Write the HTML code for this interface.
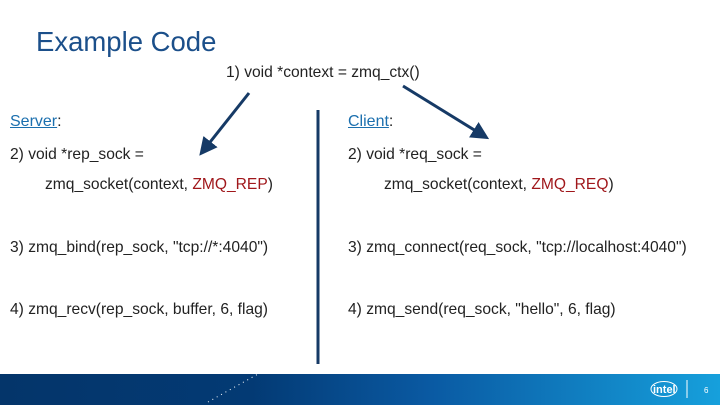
<!DOCTYPE html>
<html><head><style>
body{margin:0;width:720px;height:405px;overflow:hidden;background:#fff;position:relative;font-family:"Liberation Sans",Arial,sans-serif;color:#222}
.t{position:absolute;font-size:15.6px;white-space:nowrap;line-height:1}
.h{color:#1b6fae;text-decoration:underline}
.r{color:#a0171b}
</style></head><body>
<div class="t" style="left:36px;top:28px;font-size:27.5px;color:#1b4f8a">Example Code</div>
<div class="t" style="left:226px;top:65px">1) void *context = zmq_ctx()</div>
<div class="t" style="left:10px;top:114px;font-size:16px"><span class="h">Server</span>:</div>
<div class="t" style="left:348px;top:114px;font-size:16px"><span class="h">Client</span>:</div>
<div class="t" style="left:10px;top:147px">2) void *rep_sock =</div>
<div class="t" style="left:348px;top:147px">2) void *req_sock =</div>
<div class="t" style="left:45px;top:177px">zmq_socket(context, <span class="r">ZMQ_REP</span>)</div>
<div class="t" style="left:384px;top:177px">zmq_socket(context, <span class="r">ZMQ_REQ</span>)</div>
<div class="t" style="left:10px;top:240px">3) zmq_bind(rep_sock, "tcp://*:4040")</div>
<div class="t" style="left:348px;top:240px">3) zmq_connect(req_sock, "tcp://localhost:4040")</div>
<div class="t" style="left:10px;top:302px">4) zmq_recv(rep_sock, buffer, 6, flag)</div>
<div class="t" style="left:348px;top:302px">4) zmq_send(req_sock, "hello", 6, flag)</div>
<svg width="720" height="405" style="position:absolute;left:0;top:0">
<defs><marker id="a" markerWidth="6" markerHeight="6" refX="4" refY="3" orient="auto"><path d="M0,0L6,3L0,6z" fill="#163a66"/></marker></defs>
<line x1="249" y1="93" x2="203" y2="151" stroke="#163a66" stroke-width="3" marker-end="url(#a)"/>
<line x1="403" y1="86" x2="484" y2="136" stroke="#163a66" stroke-width="3" marker-end="url(#a)"/>
<line x1="318" y1="110" x2="318" y2="364" stroke="#163a66" stroke-width="3"/>
<defs><linearGradient id="g" x1="0" x2="1"><stop offset="0" stop-color="#04356a"/><stop offset="0.35" stop-color="#033a74"/><stop offset="0.6" stop-color="#0a5aa3"/><stop offset="1" stop-color="#16a0dc"/></linearGradient></defs>
<rect x="0" y="374" width="720" height="31" fill="url(#g)"/>
<line x1="208" y1="402" x2="258" y2="374" stroke="#fff" stroke-width="1" stroke-dasharray="1,4"/>
<ellipse cx="664" cy="389" rx="13" ry="7.5" fill="none" stroke="#fff" stroke-width="1"/>
<text x="653" y="393" font-size="11" font-weight="bold" fill="#fff" font-family="Liberation Sans">intel</text>
<line x1="687" y1="380" x2="687" y2="398" stroke="#fff" stroke-width="1"/>
<text x="704" y="393" font-size="8" fill="#fff" font-family="Liberation Sans">6</text>
</svg>
</body></html>
